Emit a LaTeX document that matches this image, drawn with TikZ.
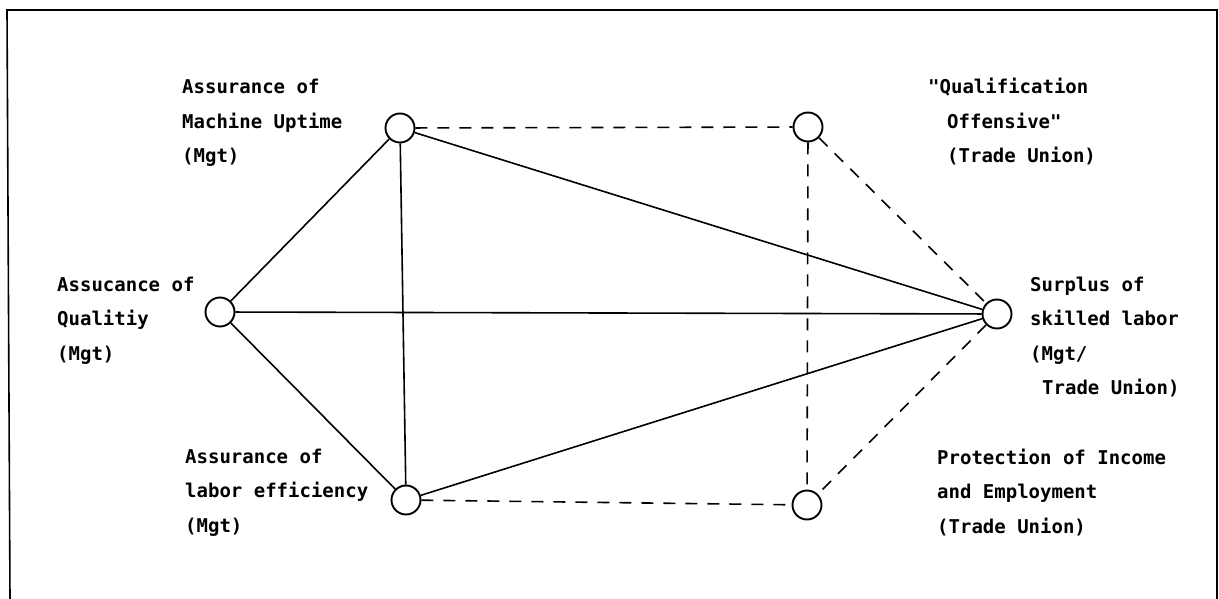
\documentclass[tikz,border=0pt]{standalone}
\usepackage{fontspec}
\newfontfamily\labfont{DejaVu Sans Mono}
\tikzset{
  vtx/.style={circle,draw,line width=1.9pt,minimum size=29pt,inner sep=0pt},
  solidedge/.style={line width=1.6pt},
  dashedge/.style={line width=1.6pt,dash pattern=on 12pt off 10pt},
  lab/.style={anchor=base west,inner sep=0pt,font=\labfont\bfseries\fontsize{19}{34.5}\selectfont}
}
\begin{document}
\begin{tikzpicture}[x=1pt,y=-1pt]
\useasboundingbox (0,0) rectangle (1219,599);
% frame
\coordinate (fbl) at (10,599);
\coordinate (ftl) at (7,10);
\coordinate (ftr) at (1217,10);
\coordinate (fbr) at (1217,599);
\draw[line width=1.6pt] (fbl) -- (ftl) -- (ftr) -- (fbr);
% vertices
\node[vtx] (M) at (400,128) {};
\node[vtx] (Q) at (808,127) {};
\node[vtx] (A) at (220,312) {};
\node[vtx] (S) at (997,314) {};
\node[vtx] (L) at (406,500) {};
\node[vtx] (P) at (807,505) {};
% solid connectors
\draw[solidedge] (A) -- (M);
\draw[solidedge] (A) -- (L);
\draw[solidedge] (A) -- (S);
\draw[solidedge] (M) -- (S);
\draw[solidedge] (L) -- (S);
\draw[solidedge] (M) -- (L);
% dashed connectors
\draw[dashedge] (M) -- (Q);
\draw[dashedge] (Q) -- (P);
\draw[dashedge] (Q) -- (S);
\draw[dashedge] (S) -- (P);
\draw[dashedge] (L) -- (P);
% labels
\node[lab] (tM) at (182,94) {\vtop{\hbox{Assurance of}\hbox{Machine Uptime}\hbox{(Mgt)}}};
\node[lab] (tQ) at (928,94) {\vtop{\hbox{"Qualification}\hbox{\hspace{19pt}Offensive"}\hbox{\hspace{19pt}(Trade Union)}}};
\node[lab] (tA) at (57,291) {\vtop{\hbox{Assucance of}\hbox{Qualitiy}\hbox{(Mgt)}}};
\node[lab] (tS) at (1030,291) {\vtop{\hbox{Surplus of}\hbox{skilled labor}\hbox{(Mgt/}\hbox{\hspace{12pt}Trade Union)}}};
\node[lab] (tL) at (185,463) {\vtop{\hbox{Assurance of}\hbox{labor efficiency}\hbox{(Mgt)}}};
\node[lab] (tP) at (937,464) {\vtop{\hbox{Protection of Income}\hbox{and Employment}\hbox{(Trade Union)}}};
\end{tikzpicture}
\end{document}
